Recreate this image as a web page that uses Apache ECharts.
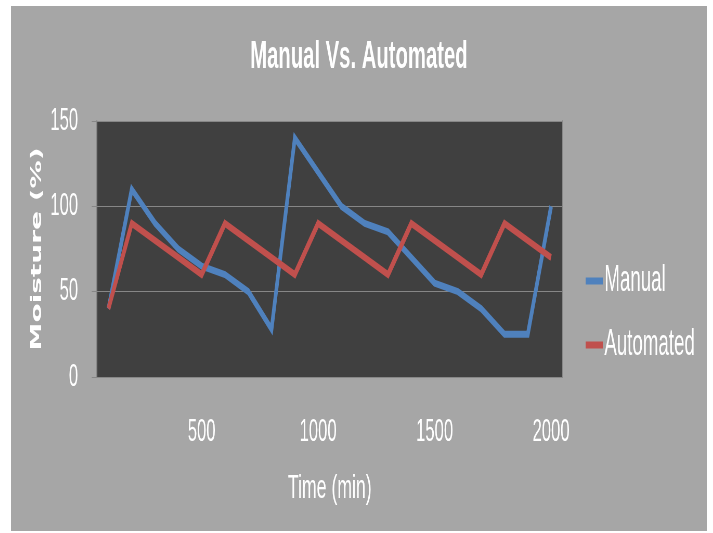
<!DOCTYPE html>
<html>
<head>
<meta charset="utf-8">
<title>Manual Vs. Automated</title>
<script src="https://cdn.jsdelivr.net/npm/echarts@6/dist/echarts.min.js"></script>
<style>
  html, body { margin: 0; padding: 0; background: #ffffff; overflow: hidden; width: 713px; height: 533px; }
  /* chart is laid out wide and then narrowed horizontally, giving tall condensed text */
  #chart { position: absolute; left: 11px; top: 6px; width: 1338px; height: 525px;
           transform: scaleX(0.52); transform-origin: 0 0; }
</style>
</head>
<body>
<div id="chart"></div>
<script>
// Sampling times (min)
const times = ['100','200','300','400','500','600','700','800','900','1000',
               '1100','1200','1300','1400','1500','1600','1700','1800','1900','2000'];
// Moisture readings (%)
const manual    = [40, 110, 90, 75, 65, 60, 50, 28, 140, 120, 100, 90, 85, 70, 55, 50, 40, 25, 25, 100];
const automated = [40, 90, 80, 70, 60, 90, 80, 70, 60, 90, 80, 70, 60, 90, 80, 70, 60, 90, 80, 70];
const seriesNames = ['Manual', 'Automated'];
const seriesColors = ['#4f81bd', '#c0504d'];

const FONT = "'Liberation Sans', Arial, sans-serif";
const axisGray = '#878787';

const chart = echarts.init(document.getElementById('chart'), null, { renderer: 'canvas' });

chart.setOption({
  backgroundColor: '#a6a6a6',
  animation: false,
  title: {
    text: 'Manual Vs. Automated',
    left: 'center',
    top: 27,
    textStyle: { color: '#ffffff', fontFamily: FONT, fontSize: 39, fontWeight: 'bold' }
  },
  legend: {
    orient: 'vertical',
    left: 1100,
    top: 252,
    itemWidth: 33,
    itemHeight: 7,
    itemGap: 28,
    icon: 'rect',
    data: seriesNames,
    textStyle: { color: '#ffffff', fontFamily: FONT, fontSize: 36, lineHeight: 34, padding: [0, 0, 0, -2] }
  },
  grid: {
    left: 165,
    right: 277,
    top: 115,
    bottom: 154,
    show: true,
    backgroundColor: '#404040',
    borderWidth: 0
  },
  xAxis: {
    type: 'category',
    data: times,
    boundaryGap: true,
    name: 'Time (min)',
    nameLocation: 'middle',
    nameGap: 95,
    nameTextStyle: { color: '#ffffff', fontFamily: FONT, fontSize: 34 },
    axisLine: { show: true, lineStyle: { color: axisGray, width: 1 } },
    axisTick: { show: false },
    axisLabel: {
      color: '#ffffff',
      fontFamily: FONT,
      fontSize: 32,
      margin: 39,
      interval: (idx, val) => Number(val) % 500 === 0
    },
    splitLine: { show: false }
  },
  yAxis: [
    {
      type: 'value',
      min: 0,
      max: 150,
      interval: 50,
      name: 'Moisture (%)',
      nameLocation: 'middle',
      nameGap: 91,
      nameTextStyle: { color: '#ffffff', fontFamily: "'DejaVu Sans', Verdana, sans-serif", fontSize: 28, fontWeight: 'bold' },
      axisLine: { show: true, lineStyle: { color: axisGray, width: 2 } },
      axisTick: { show: true, length: 10, lineStyle: { color: axisGray, width: 1 } },
      axisLabel: { color: '#ffffff', fontFamily: FONT, fontSize: 32, margin: 36 },
      splitLine: { show: true, lineStyle: { color: axisGray, width: 1 } }
    },
    {
      // right-hand edge of the plot area
      type: 'value',
      position: 'right',
      min: 0,
      max: 150,
      interval: 50,
      axisLine: { show: true, lineStyle: { color: axisGray, width: 2 } },
      axisTick: { show: false },
      axisLabel: { show: false },
      splitLine: { show: false }
    }
  ],
  series: [
    {
      name: seriesNames[0],
      type: 'line',
      data: manual,
      showSymbol: false,
      symbol: 'none',
      color: seriesColors[0],
      lineStyle: { width: 7, color: seriesColors[0], join: 'miter' }
    },
    {
      name: seriesNames[1],
      type: 'line',
      data: automated,
      showSymbol: false,
      symbol: 'none',
      color: seriesColors[1],
      lineStyle: { width: 7, color: seriesColors[1], join: 'miter' }
    }
  ]
});
</script>
</body>
</html>
